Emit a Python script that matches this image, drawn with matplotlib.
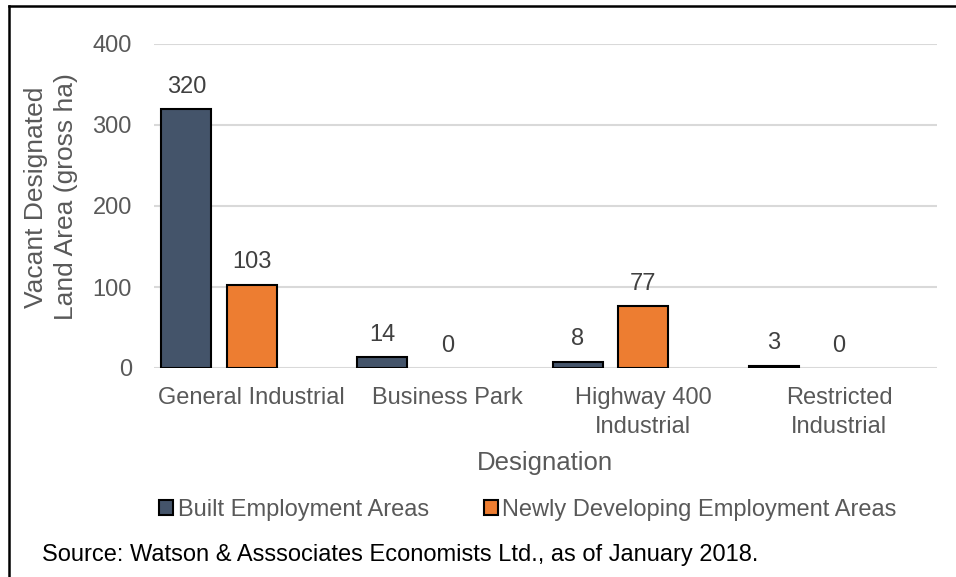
import matplotlib.pyplot as plt
import numpy as np
from matplotlib.patches import Patch
from matplotlib.lines import Line2D

plt.rcParams['font.family'] = ['Liberation Sans', 'DejaVu Sans']

# Data
categories = ['General Industrial', 'Business Park', 'Highway 400\nIndustrial', 'Restricted\nIndustrial']
built = [320, 14, 8, 3]
newly = [103, 0, 77, 0]
series_names = ['Built Employment Areas', 'Newly Developing Employment Areas']

dark = '#44546a'
orange = '#ed7d31'
grey_txt = '#595959'

fig = plt.figure(figsize=(9.56, 5.77), dpi=100)
ax = fig.add_axes([154/956, 1-368/577, 783/956, 324/577])

x = np.arange(len(categories))
w = 0.255
b1 = ax.bar(x - 0.335, built, w, color=dark, edgecolor='black', linewidth=1.5, zorder=3)
b2 = ax.bar(x, newly, w, color=orange, edgecolor='black', linewidth=1.5, zorder=3)

# value labels above bars, zero bars drawn without outline
for bars, vals in [(b1, built), (b2, newly)]:
    for r, v in zip(bars, vals):
        if v == 0:
            r.set_linewidth(0)
        ax.annotate(str(v), (r.get_x() + r.get_width()/2, v), xytext=(0, 8),
                    textcoords='offset points', ha='center', va='bottom',
                    fontsize=17, color='#404040')

ax.set_xlim(-0.5, 3.5)
ax.set_ylim(0, 400)
ax.set_yticks([0, 100, 200, 300, 400])
ax.set_xticks(x)
ax.set_xticklabels(categories)
ax.tick_params(axis='both', length=0, labelsize=17, labelcolor=grey_txt)
ax.tick_params(axis='y', pad=16)
ax.tick_params(axis='x', pad=14)
for t in ax.get_xticklabels():
    t.set_linespacing(1.4)
ax.yaxis.grid(True, color='#d9d9d9', linewidth=1.5, zorder=0)
ax.set_axisbelow(True)
for s in ax.spines.values():
    s.set_visible(False)

fig.text(545/956, 1-463/577, 'Designation', ha='center', va='center', fontsize=18.5, color=grey_txt)
fig.text(51/956, 1-197/577, 'Vacant Designated\nLand Area (gross ha)', ha='center', va='center',
         rotation=90, fontsize=19, color=grey_txt, linespacing=1.3)

# legend
handles = [Patch(facecolor=dark, edgecolor='black', linewidth=1.5),
           Patch(facecolor=orange, edgecolor='black', linewidth=1.5)]
leg = fig.legend(handles, series_names, loc='center', bbox_to_anchor=(528/956, 1-510/577),
                 ncol=2, frameon=False, fontsize=17, handlelength=0.6, handleheight=0.6,
                 handletextpad=0.2, columnspacing=2.3, borderpad=0)
for t in leg.get_texts():
    t.set_color(grey_txt)

fig.text(42/956, 1-555/577, 'Source: Watson & Asssociates Economists Ltd., as of January 2018.',
         ha='left', va='center', fontsize=17, color='black')

# frame (left and top border, cropped image)
fig.add_artist(Line2D([9/956, 9/956], [0, 1-6/577], color='black', linewidth=1.8, transform=fig.transFigure))
fig.add_artist(Line2D([9/956, 1], [1-6/577, 1-6/577], color='black', linewidth=1.8, transform=fig.transFigure))

plt.savefig('out.png', dpi=100)
